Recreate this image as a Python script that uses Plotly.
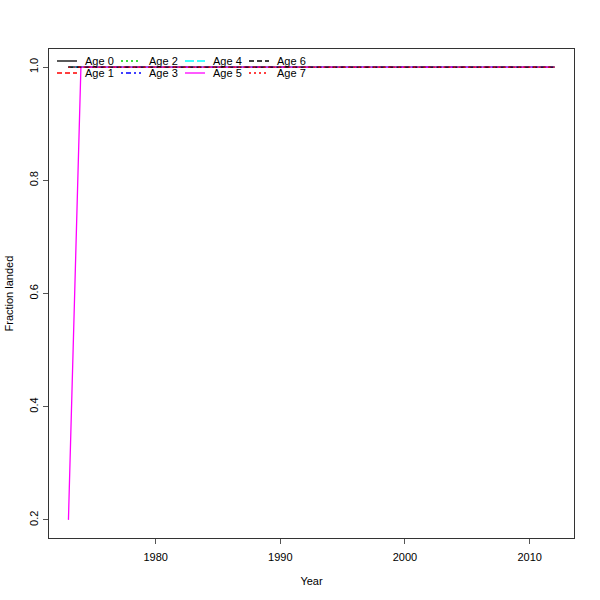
import plotly.graph_objects as go

years = list(range(1973, 2013))
age0 = [1.0, 1.0, 1.0, 1.0, 1.0, 1.0, 1.0, 1.0, 1.0, 1.0, 1.0, 1.0, 1.0, 1.0, 1.0, 1.0, 1.0, 1.0, 1.0, 1.0,
        1.0, 1.0, 1.0, 1.0, 1.0, 1.0, 1.0, 1.0, 1.0, 1.0, 1.0, 1.0, 1.0, 1.0, 1.0, 1.0, 1.0, 1.0, 1.0, 1.0]
age1 = list(age0)
age2 = list(age0)
age3 = list(age0)
age4 = list(age0)
age5 = [0.2, 1.0, 1.0, 1.0, 1.0, 1.0, 1.0, 1.0, 1.0, 1.0, 1.0, 1.0, 1.0, 1.0, 1.0, 1.0, 1.0, 1.0, 1.0, 1.0,
        1.0, 1.0, 1.0, 1.0, 1.0, 1.0, 1.0, 1.0, 1.0, 1.0, 1.0, 1.0, 1.0, 1.0, 1.0, 1.0, 1.0, 1.0, 1.0, 1.0]
age6 = list(age0)
age7 = list(age0)

names = ["Age 0", "Age 1", "Age 2", "Age 3", "Age 4", "Age 5", "Age 6", "Age 7"]
series = [age0, age1, age2, age3, age4, age5, age6, age7]
colors = ["black", "#FF0000", "#00CD00", "#0000FF", "#00FFFF", "#FF00FF", "black", "#FF0000"]
dashes = ["solid", "5px,3px", "2px,3px", "2px,3px,5px,3px", "9px,3px", "solid", "5px,3px", "2px,3px"]

FONT = "Liberation Sans, Arial, sans-serif"
LW = 1.3

fig = go.Figure()
for n, s, c, d in zip(names, series, colors, dashes):
    fig.add_trace(go.Scatter(x=years, y=s, mode="lines", name=n,
                             line=dict(color=c, width=LW, dash=d), showlegend=False))

L, R_, T, B = 49, 574, 49, 538
def px(x):
    return (x - L) / (R_ - L)
def py(y):
    return (B - y) / (B - T)

# manual R-style legend (column-wise, 2 rows x 4 cols), paper coordinates
for i, (n, c, d) in enumerate(zip(names, colors, dashes)):
    col, row = i // 2, i % 2
    x0 = 57 + col * 64
    yy = 61 + row * 12
    fig.add_shape(type="line", xref="paper", yref="paper",
                  x0=px(x0), x1=px(x0 + 20), y0=py(yy), y1=py(yy),
                  line=dict(color=c, width=LW, dash=d))
    fig.add_annotation(xref="paper", yref="paper", x=px(x0 + 26), y=py(yy),
                       text=n, showarrow=False, xanchor="left", yanchor="middle",
                       font=dict(size=11, color="black", family=FONT))

# y-axis title (R-style, close to the left edge)
fig.add_annotation(xref="paper", yref="paper", x=px(8), y=0.5, text="Fraction landed",
                   textangle=-90, showarrow=False, xanchor="center", yanchor="middle",
                   font=dict(size=11, color="black", family=FONT))

fig.update_layout(
    width=600, height=600,
    margin=dict(l=L, r=600 - R_, t=T, b=600 - B, autoexpand=False),
    plot_bgcolor="white", paper_bgcolor="white",
    font=dict(family=FONT, size=11, color="black"),
    showlegend=False,
)
fig.update_xaxes(range=[1971.44, 2013.56], tickvals=[1980, 1990, 2000, 2010],
                 ticks="outside", ticklen=5, tickcolor="#555555", ticklabelstandoff=4,
                 showline=True, mirror=True, linecolor="#333333", linewidth=1,
                 showgrid=False, zeroline=False, automargin=False,
                 title=dict(text="Year", standoff=15, font=dict(size=11)))
fig.update_yaxes(range=[0.168, 1.032], tickvals=[0.2, 0.4, 0.6, 0.8, 1.0],
                 ticktext=["0.2", "0.4", "0.6", "0.8", "1.0"], tickangle=-90,
                 ticks="outside", ticklen=5, tickcolor="#555555", ticklabelstandoff=1,
                 showline=True, mirror=True, linecolor="#333333", linewidth=1,
                 showgrid=False, zeroline=False, automargin=False)

fig.write_html("out.html", config={"displayModeBar": False},
               post_script="document.body.style.margin='0';document.body.style.overflow='hidden';")
